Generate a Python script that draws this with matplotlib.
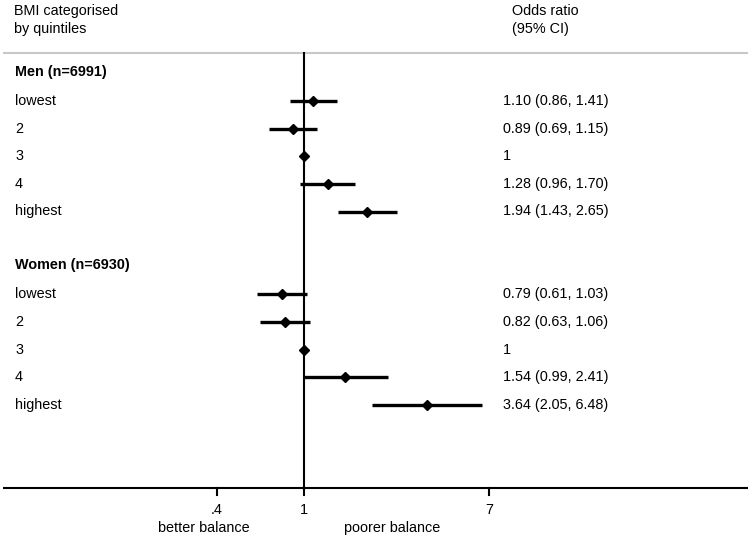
import numpy as np
import matplotlib
matplotlib.use("Agg")
import matplotlib.pyplot as plt
import matplotlib.transforms as mtransforms

plt.rcParams['font.family'] = ['Liberation Sans', 'DejaVu Sans']

# ---- data ----
groups = ["Men (n=6991)", "Women (n=6930)"]
categories = ["lowest", "2", "3", "4", "highest"]
men_or = [1.10, 0.89, 1.00, 1.28, 1.94]
men_lo = [0.86, 0.69, np.nan, 0.96, 1.43]
men_hi = [1.41, 1.15, np.nan, 1.70, 2.65]
women_or = [0.79, 0.82, 1.00, 1.54, 3.64]
women_lo = [0.61, 0.63, np.nan, 0.99, 2.05]
women_hi = [1.03, 1.06, np.nan, 2.41, 6.48]
tick_values = [0.4, 1, 7]
tick_labels = [".4", "1", "7"]

W, H = 752, 540
fig = plt.figure(figsize=(W / 100, H / 100), dpi=100)
ax = fig.add_axes([0, 0, 1, 1])
ax.set_xscale('log')
px_per_ln = 95.3
x_ref = 304
ax.set_xlim(np.exp(-x_ref / px_per_ln), np.exp((W - x_ref) / px_per_ln))
ax.set_ylim(H, 0)
ax.axis('off')

blend = mtransforms.blended_transform_factory(ax.transAxes, ax.transData)

def xfrac(px):
    return px / W

fs = 10.4
# headers
ax.text(xfrac(14), 11, "BMI categorised", transform=blend, fontsize=fs, va='center', ha='left')
ax.text(xfrac(14), 29, "by quintiles", transform=blend, fontsize=fs, va='center', ha='left')
ax.text(xfrac(512), 11, "Odds ratio", transform=blend, fontsize=fs, va='center', ha='left')
ax.text(xfrac(512), 29, "(95% CI)", transform=blend, fontsize=fs, va='center', ha='left')

# separator line
ax.plot([xfrac(3), xfrac(748)], [53, 53], transform=blend, color='#c8c8c8', lw=1.5,
        solid_capstyle='butt')

row_y0 = 73.5
row_dy = 27.6

def fmt(v):
    return f"{v:.2f}"

all_data = [(men_or, men_lo, men_hi), (women_or, women_lo, women_hi)]
for g, (grp, (ors, los, his)) in enumerate(zip(groups, all_data)):
    base = g * 7
    ax.text(xfrac(15), row_y0 + row_dy * base - 1.5, grp, transform=blend, fontsize=fs,
            fontweight='bold', va='center', ha='left')
    for i, cat in enumerate(categories):
        y = row_y0 + row_dy * (base + 1 + i)
        ax.text(xfrac(15), y, cat, transform=blend, fontsize=fs, va='center', ha='left')
        o, lo, hi = ors[i], los[i], his[i]
        if not np.isnan(lo):
            ax.plot([lo, hi], [y, y], color='black', lw=2.4, solid_capstyle='butt', zorder=3)
            label = f"{fmt(o)} ({fmt(lo)}, {fmt(hi)})"
        else:
            label = "1"
        ax.plot([o], [y], marker='D', color='black', ms=5.3, zorder=4)
        ax.text(xfrac(503), y, label, transform=blend, fontsize=fs, va='center', ha='left')

# reference vertical line
ax.plot([1, 1], [53, 488], color='black', lw=1.5, zorder=2)

# x axis
ax.plot([xfrac(3), xfrac(748)], [488, 488], transform=blend, color='black', lw=1.5,
        solid_capstyle='butt')
for tv, tl in zip(tick_values, tick_labels):
    ax.plot([tv, tv], [488, 495], color='black', lw=1.5)
    ax.text(tv, 510, tl, fontsize=fs, ha='center', va='center')

ax.text(np.exp((204 - x_ref) / px_per_ln), 528, "better balance", fontsize=fs,
        ha='center', va='center')
ax.text(np.exp((392 - x_ref) / px_per_ln), 528, "poorer balance", fontsize=fs,
        ha='center', va='center')

fig.savefig("out.png", dpi=100, facecolor='white')
